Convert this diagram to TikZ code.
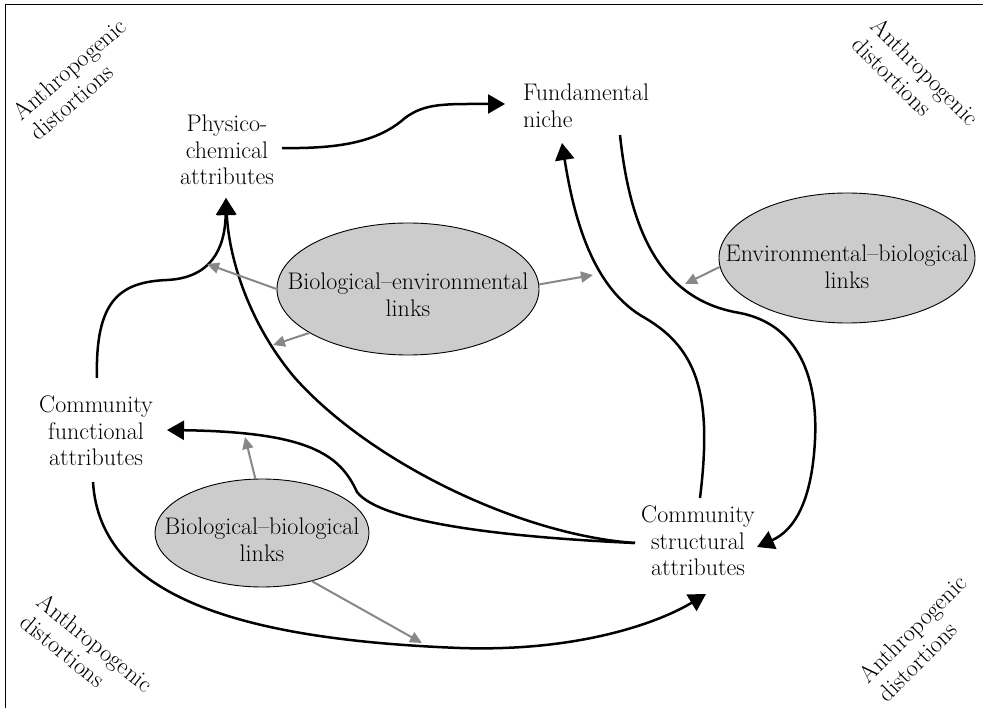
\documentclass[tikz,border=0pt]{standalone}
\usetikzlibrary{shapes.geometric,arrows.meta,calc}
\definecolor{ellfill}{RGB}{204,204,204}
\definecolor{linkgray}{RGB}{136,136,136}
\newcommand\ellText[2]{\makebox[0pt]{\smash{\raisebox{#1}{\begin{tabular}{@{}c@{}}#2\end{tabular}}}}}
\tikzset{
  txt/.style={inner sep=0pt, align=center, font=\fontsize{24}{26.5}\selectfont},
  anth/.style={inner sep=0pt, align=left, font=\fontsize{24}{26.5}\selectfont},
  linkell/.style={ellipse, draw=black, line width=0.9pt, fill=ellfill, inner sep=0pt,
                  font=\fontsize{24}{26.5}\selectfont},
  mainarrow/.style={line width=2.5pt, -{Triangle[length=17pt,width=19pt]}},
  grayarrow/.style={draw=linkgray, line width=2pt, -{Triangle[length=12pt,width=11pt]}, color=linkgray},
}
\begin{document}
\begin{tikzpicture}[x=1pt,y=-1pt]
\useasboundingbox (0,0) rectangle (983,708);
\clip (0,0) rectangle (983,708);
\draw[line width=1pt] (5,5) rectangle (995,720);

% corner labels
\node[anth, rotate=41]  (ad1) at (78,79)   {Anthropogenic\\distortions};
\node[anth, rotate=-45] (ad2) at (916,81)  {Anthropogenic\\distortions};
\node[anth, rotate=-39] (ad3) at (87,653)  {Anthropogenic\\distortions};
\node[anth, rotate=45]  (ad4) at (922,638) {Anthropogenic\\distortions};

% text nodes
\node[txt] (phys) at (227,150) {Physico-\\chemical\\attributes};
\node[txt, align=left, anchor=west] (fund) at (523,106) {Fundamental\\niche};
\node[txt] (cfun) at (96,431) {Community\\functional\\attributes};
\node[txt] (cstr) at (698,541) {Community\\structural\\attributes};

% ellipses
\node[linkell, minimum width=262pt, minimum height=132pt] (bioenv) at (408,289) {\ellText{-15pt}{Biological–environmental\\links}};
\node[linkell, minimum width=256pt, minimum height=130pt] (envbio) at (847,258) {\ellText{-18pt}{Environmental–biological\\links}};
\node[linkell, minimum width=214pt, minimum height=108pt] (biobio) at (262,533) {\ellText{-16pt}{Biological–biological\\links}};

% black connectors
\draw[mainarrow] ($(phys.center)+(55,-2)$) .. controls (345,149) and (380,140) .. (405,118)
  .. controls (425,103) and (445,104) .. ($(fund.west)+(-18,-2)$);
\draw[mainarrow] ($(fund.west)+(97,29)$) .. controls (630,230) and (660,300) .. (740,313)
  .. controls (800,325) and (818,380) .. (815,440)
  .. controls (812,500) and (795,530) .. ($(cstr.center)+(59,6)$);
\draw[mainarrow] ($(cstr.center)+(2,-43)$) .. controls (712,400) and (700,350) .. (645,318)
  .. controls (595,290) and (575,225) .. ($(fund.west)+(39,37)$);
\draw[mainarrow] ($(cstr.center)+(-63,2)$) .. controls (500,537) and (380,522) .. (357,492)
  .. controls (340,455) and (310,432) .. ($(cfun.center)+(71,-1)$);
\draw[mainarrow] ($(cstr.center)+(-63,2)$) .. controls (520,535) and (370,462) .. (295,378)
  .. controls (250,325) and (229,260) .. ($(phys.center)+(-1,48)$);
\draw[mainarrow] ($(cfun.center)+(1,-53)$) .. controls (95,300) and (120,282) .. (167,280)
  .. controls (210,278) and (225,250) .. ($(phys.center)+(-1,48)$);
\draw[mainarrow] ($(cfun.center)+(-3,51)$) .. controls (100,600) and (250,640) .. (460,648)
  .. controls (580,652) and (660,622) .. ($(cstr.center)+(8,53)$);

% gray link arrows
\coordinate (g1) at (207,264);
\coordinate (g2) at (273,345);
\coordinate (g3) at (593,275);
\coordinate (g4) at (685,284);
\coordinate (g5) at (245,437);
\coordinate (g6) at (422,643);
\draw[grayarrow] (bioenv.west) -- (g1);
\draw[grayarrow] (bioenv.204) -- (g2);
\draw[grayarrow] (bioenv.2) -- (g3);
\draw[grayarrow] (envbio.184) -- (g4);
\draw[grayarrow] (biobio.97) -- (g5);
\draw[grayarrow] (biobio.-44) -- (g6);
\end{tikzpicture}
\end{document}
